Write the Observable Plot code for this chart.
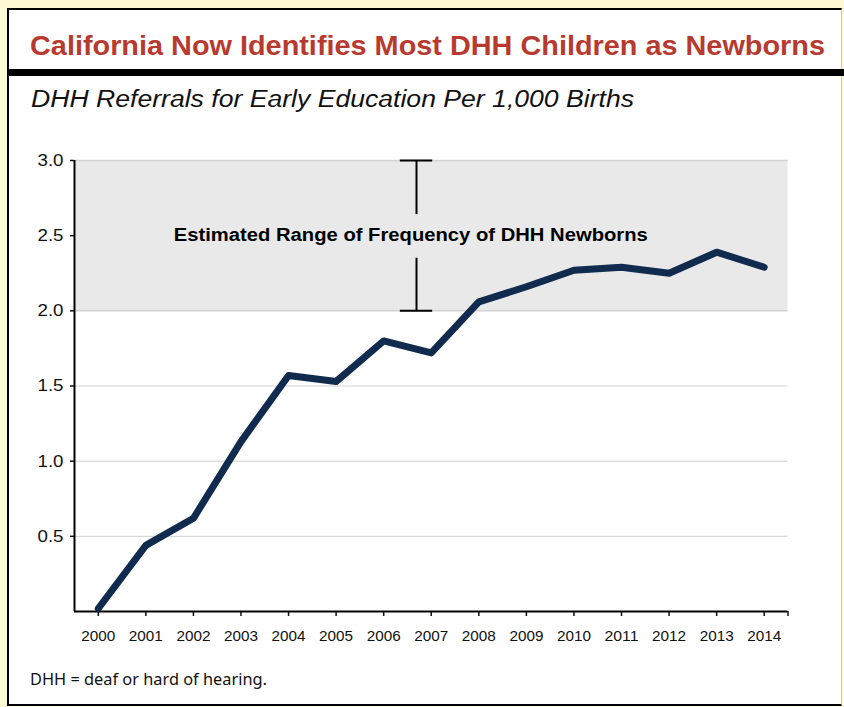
<!DOCTYPE html>
<html><head><meta charset="utf-8">
<script src="https://cdn.jsdelivr.net/npm/d3@7"></script>
<script src="https://cdn.jsdelivr.net/npm/@observablehq/plot@0.6"></script>
<style>
html,body{margin:0;padding:0;}
body{width:844px;height:707px;background:#fffad6;position:relative;overflow:hidden;font-family:"Liberation Sans",Arial,Helvetica,sans-serif;}
#box{position:absolute;box-sizing:border-box;left:7px;top:8px;width:835px;height:698px;background:#fff;border-left:2px solid #000;border-top:2px solid #000;border-bottom:2px solid #000;border-right:1px solid #c8c8c8;}
#rule{position:absolute;left:9px;top:69px;width:835px;height:7px;background:#000;}
.t{position:absolute;white-space:nowrap;line-height:1;transform-origin:0 0;}
#title{left:30px;top:33px;font-size:27px;font-weight:bold;color:#b83a2f;font-family:"Liberation Sans Narrow","Liberation Sans",Arial,sans-serif;}
#subtitle{left:31px;top:88px;font-size:23px;font-style:italic;color:#111;}
#note{left:30px;top:671px;font-size:16px;color:#111;font-family:"Noto Sans","Open Sans",sans-serif;}
#chart{position:absolute;left:0;top:130px;}
</style>
</head><body>
<div id="box"></div>
<div id="rule"></div>
<div class="t" id="title" data-w="795">California Now Identifies Most DHH Children as Newborns</div>
<div class="t" id="subtitle" data-w="603">DHH Referrals for Early Education Per 1,000 Births</div>
<div id="chart"></div>
<div class="t" id="note" data-w="237">DHH = deaf or hard of hearing.</div>
<script>
// Data
const years = [2000, 2001, 2002, 2003, 2004, 2005, 2006, 2007, 2008, 2009, 2010, 2011, 2012, 2013, 2014];
const referrals = [0.02, 0.44, 0.62, 1.13, 1.57, 1.53, 1.80, 1.72, 2.06, 2.16, 2.27, 2.29, 2.25, 2.39, 2.29];
const yTicks = [0.5, 1.0, 1.5, 2.0, 2.5, 3.0];
const gridValues = [0.5, 1.0, 1.5];
const rangeLow = 2.0;
const rangeHigh = 3.0;
const rangeLabel = "Estimated Range of Frequency of DHH Newborns";
const rangeLabelYear = 2006.57;
const rangeBarYear = 2006.69;
const rangeGapLow = 2.35;
const rangeGapHigh = 2.64;
const capHalf = 0.34;
const xDomain = [1999.5, 2014.5];

const data = years.map((y, i) => ({year: y, value: referrals[i]}));

const plot = Plot.plot({
  width: 844,
  height: 521,
  marginTop: 30,
  marginBottom: 40,
  marginLeft: 74,
  marginRight: 56.5,
  style: {background: "transparent", fontFamily: "'Liberation Sans', Arial, sans-serif", overflow: "visible", color: "#111"},
  x: {domain: xDomain, label: null},
  y: {domain: [0, 3], label: null},
  marks: [
    Plot.rect([{}], {x1: xDomain[0], x2: xDomain[1], y1: rangeLow, y2: rangeHigh, fill: "#e9e9e9"}),
    Plot.ruleY(gridValues, {x1: xDomain[0], x2: xDomain[1], stroke: "#d0d0d0", strokeWidth: 1}),
    Plot.ruleY([rangeLow, rangeHigh], {x1: xDomain[0], x2: xDomain[1], stroke: "#d2d2d2", strokeWidth: 1.5}),
    // range indicator
    Plot.ruleX([rangeBarYear], {y1: rangeGapHigh, y2: rangeHigh, stroke: "#000", strokeWidth: 2}),
    Plot.ruleX([rangeBarYear], {y1: rangeLow, y2: rangeGapLow, stroke: "#000", strokeWidth: 2}),
    Plot.ruleY([rangeLow, rangeHigh], {x1: rangeBarYear - capHalf, x2: rangeBarYear + capHalf, stroke: "#000", strokeWidth: 2}),
    Plot.text([rangeLabel], {x: rangeLabelYear, y: (rangeLow + rangeHigh) / 2, text: d => d, fontSize: 18, fontWeight: "bold", fill: "#000"}),
    // axes
    Plot.axisY({ticks: yTicks, tickFormat: d3.format(".1f"), tickSize: 4, tickPadding: 7, fontSize: 17, strokeWidth: 1.5, label: null}),
    Plot.axisX({ticks: [...years, xDomain[1]], tickFormat: d => Number.isInteger(d) ? String(d) : "", tickSize: 5, tickPadding: 13, fontSize: 15.5, strokeWidth: 1.5, label: null}),
    Plot.ruleX([xDomain[0]], {y1: 0, y2: 3, stroke: "#000", strokeWidth: 2}),
    Plot.ruleY([0], {x1: xDomain[0], x2: xDomain[1], stroke: "#000", strokeWidth: 2}),
    // series
    Plot.line(data, {x: "year", y: "value", stroke: "#112b4e", strokeWidth: 7, strokeLinejoin: "round", strokeLinecap: "round"})
  ]
});
document.getElementById("chart").appendChild(plot);

// stretch texts to the reference widths (the reference uses a wider face)
plot.querySelectorAll("text").forEach(t => {
  const s = t.textContent.trim();
  let len = 0;
  if (s === rangeLabel) len = 474;
  else if (/^\d\.\d$/.test(s)) len = 26;
  else if (/^\d{4}$/.test(s)) len = 34;
  if (len) {
    t.setAttribute("textLength", String(len));
    t.setAttribute("lengthAdjust", "spacingAndGlyphs");
  }
});

// fit text widths
document.querySelectorAll(".t").forEach(el => {
  const target = +el.dataset.w;
  const w = el.getBoundingClientRect().width;
  if (w > 0 && target) el.style.transform = `scaleX(${target / w})`;
});
</script>
</body></html>
